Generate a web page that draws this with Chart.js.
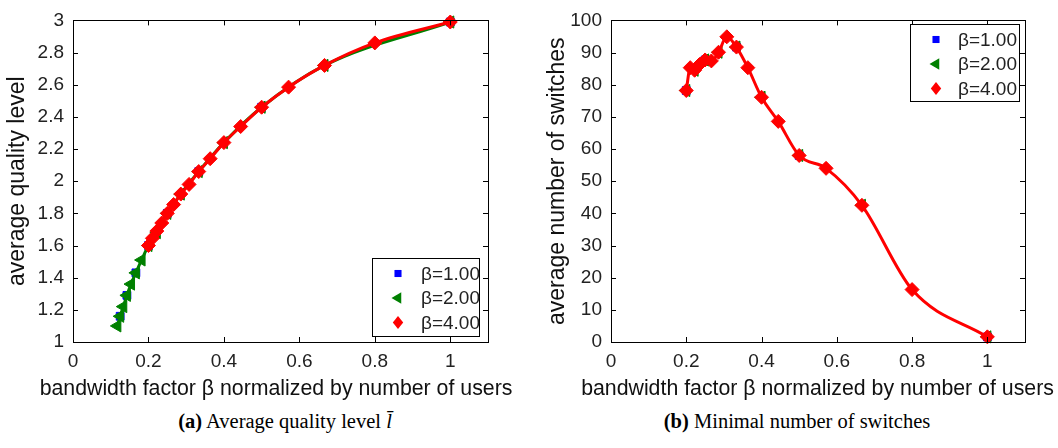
<!DOCTYPE html>
<html><head><meta charset="utf-8">
<script src="https://cdn.jsdelivr.net/npm/chart.js@4.4.0/dist/chart.umd.min.js"></script>
<style>
html,body{margin:0;padding:0;background:#fff;width:1058px;height:448px;overflow:hidden;}
#c1{position:absolute;left:0;top:0;width:529px;height:410px;}
#c2{position:absolute;left:529px;top:0;width:529px;height:410px;}
.cap{position:absolute;top:410px;font-family:"Liberation Serif","Times New Roman",serif;font-size:20.5px;color:#000;white-space:nowrap;transform:translateX(-50%);}
</style></head><body>
<canvas id="c1" width="529" height="410"></canvas>
<canvas id="c2" width="529" height="410"></canvas>
<div class="cap" style="left:285px"><b>(a)</b> Average quality level <i>l&#772;</i></div>
<div class="cap" style="left:797px"><b>(b)</b> Minimal number of switches</div>
<script>
// ---------- data ----------
const xTickValues = [0, 0.2, 0.4, 0.6, 0.8, 1];
const xTickLabels = ['0', '0.2', '0.4', '0.6', '0.8', '1'];
const qualityTickValues = [1, 1.2, 1.4, 1.6, 1.8, 2, 2.2, 2.4, 2.6, 2.8, 3];
const qualityTickLabels = ['1', '1.2', '1.4', '1.6', '1.8', '2', '2.2', '2.4', '2.6', '2.8', '3'];
const switchTickValues = [0, 10, 20, 30, 40, 50, 60, 70, 80, 90, 100];
const switchTickLabels = ['0', '10', '20', '30', '40', '50', '60', '70', '80', '90', '100'];
const seriesLabels = ['β=1.00', 'β=2.00', 'β=4.00'];
const xAxisTitle = 'bandwidth factor β normalized by number of users';
const qualityAxisTitle = 'average quality level';
const switchAxisTitle = 'average number of switches';

// (a) average quality level
const qualityXBeta1 = [0.125, 0.1429, 0.1667, 0.2, 0.25, 0.3333, 0.5, 1];
const qualityBeta1  = [1.16, 1.29, 1.43, 1.60, 1.80, 2.06, 2.46, 2.99];
const qualityXBeta2 = [0.1176, 0.125, 0.1333, 0.1429, 0.1538, 0.1667, 0.1818, 0.2, 0.2222, 0.25, 0.2857, 0.3333, 0.4, 0.5, 0.6667, 1];
const qualityBeta2  = [1.10, 1.16, 1.22, 1.29, 1.36, 1.43, 1.51, 1.60, 1.68, 1.80, 1.92, 2.06, 2.24, 2.46, 2.72, 2.99];
const qualityXBeta4 = [0.2, 0.2105, 0.2222, 0.2353, 0.25, 0.2667, 0.2857, 0.3077, 0.3333, 0.3636, 0.4, 0.4444, 0.5, 0.5714, 0.6667, 0.8, 1];
const qualityBeta4  = [1.60, 1.645, 1.69, 1.74, 1.80, 1.855, 1.92, 1.98, 2.06, 2.14, 2.24, 2.34, 2.46, 2.585, 2.72, 2.86, 2.99];

// (b) average number of switches
const switchXBeta1 = [0.2, 0.25, 0.3333, 0.5, 1];
const switchBeta1  = [78.2, 87.7, 91.7, 58.0, 1.6];
const switchXBeta2 = [0.2, 0.2222, 0.25, 0.2857, 0.3333, 0.4, 0.5, 0.6667, 1];
const switchBeta2  = [78.2, 84.5, 87.7, 90.1, 91.7, 76.1, 58.0, 42.5, 1.6];
const switchXBeta4 = [0.2, 0.2105, 0.2222, 0.2353, 0.25, 0.2667, 0.2857, 0.3077, 0.3333, 0.3636, 0.4, 0.4444, 0.5, 0.5714, 0.6667, 0.8, 1];
const switchBeta4  = [78.2, 85.3, 84.5, 86.3, 87.7, 87.4, 90.1, 94.9, 91.7, 85.3, 76.1, 68.6, 58.0, 54.0, 42.5, 16.3, 1.6];

// ---------- styling ----------
const COLORS = ['#0000ff', '#008000', '#ff0000'];
const STYLES = ['rect', 'triangle', 'rectRot'];
const ROTS = [0, -90, 0];
const RADII = [5.5, 7, 7];
const FONT = '"Liberation Sans", Arial, Helvetica, sans-serif';

function pts(xs, ys) { return xs.map((x, i) => ({x: x, y: ys[i]})); }

function makeDatasets(xsList, ysList, linesShown) {
  return xsList.map((xs, i) => ({
    label: seriesLabels[i],
    data: pts(xs, ysList[i]),
    borderColor: COLORS[i],
    backgroundColor: COLORS[i],
    borderWidth: 3,
    showLine: linesShown[i],
    pointStyle: STYLES[i],
    pointRotation: ROTS[i],
    pointRadius: RADII[i],
    pointBorderWidth: 1,
    pointBorderColor: COLORS[i],
    pointBackgroundColor: COLORS[i],
    cubicInterpolationMode: 'monotone',
    clip: false,
    order: 2 - i
  }));
}

function markerPath(ctx, style, x, y, r) {
  ctx.beginPath();
  if (style === 'rect') {
    const s = r * Math.SQRT1_2;
    ctx.rect(x - s, y - s, 2 * s, 2 * s);
  } else if (style === 'triangle') {
    ctx.moveTo(x - r, y);
    ctx.lineTo(x + r * 0.5, y - r * 0.866);
    ctx.lineTo(x + r * 0.5, y + r * 0.866);
    ctx.closePath();
  } else {
    ctx.moveTo(x, y - r);
    ctx.lineTo(x + r * 0.8, y);
    ctx.lineTo(x, y + r);
    ctx.lineTo(x - r * 0.8, y);
    ctx.closePath();
  }
  ctx.fill();
}

const framePlugin = {
  id: 'frame',
  afterDatasetsDraw(chart) {
    const {ctx, chartArea: a, scales} = chart;
    ctx.save();
    ctx.strokeStyle = '#000';
    ctx.lineWidth = 1;
    ctx.strokeRect(Math.round(a.left) + 0.5, Math.round(a.top) + 0.5,
                   Math.round(a.right - a.left), Math.round(a.bottom - a.top));
    const L = 5;
    ctx.beginPath();
    scales.x.ticks.forEach(t => {
      const px = Math.round(scales.x.getPixelForValue(t.value)) + 0.5;
      ctx.moveTo(px, a.bottom); ctx.lineTo(px, a.bottom - L);
      ctx.moveTo(px, a.top); ctx.lineTo(px, a.top + L);
    });
    scales.y.ticks.forEach(t => {
      const py = Math.round(scales.y.getPixelForValue(t.value)) + 0.5;
      ctx.moveTo(a.left, py); ctx.lineTo(a.left + L, py);
      ctx.moveTo(a.right, py); ctx.lineTo(a.right - L, py);
    });
    ctx.stroke();
    ctx.restore();
  },
  afterDraw(chart, args, opts) {
    const {ctx, chartArea: a} = chart;
    ctx.save();
    // axis titles
    ctx.fillStyle = '#111';
    ctx.textAlign = 'center';
    ctx.textBaseline = 'middle';
    ctx.font = opts.xTitleSize + 'px ' + FONT;
    ctx.fillText(xAxisTitle, opts.xTitleX, opts.xTitleY);
    ctx.save();
    ctx.translate(opts.yTitleX, (a.top + a.bottom) / 2);
    ctx.rotate(-Math.PI / 2);
    ctx.font = opts.yTitleSize + 'px ' + FONT;
    ctx.fillText(opts.yTitle, 0, 0);
    ctx.restore();
    // legend
    const lg = opts.legend;
    ctx.fillStyle = '#fff';
    ctx.fillRect(lg.left, lg.top, lg.width, lg.height);
    ctx.strokeStyle = '#000';
    ctx.lineWidth = 1;
    ctx.strokeRect(lg.left + 0.5, lg.top + 0.5, lg.width, lg.height);
    ctx.font = '19px ' + FONT;
    ctx.textBaseline = 'middle';
    ctx.textAlign = 'left';
    chart.data.datasets.forEach((ds, i) => {
      const y = lg.top + lg.firstRow + i * lg.rowGap;
      ctx.fillStyle = COLORS[i];
      markerPath(ctx, STYLES[i], lg.left + lg.markerX, y, RADII[i] - 0.5);
      ctx.fillStyle = '#222';
      ctx.fillText(ds.label, lg.left + lg.textX, y + 1);
    });
    ctx.restore();
  }
};

function makeChart(id, datasets, yMin, yMax, yTickVals, yTickLabels, pad, yWidth, frameOpts) {
  return new Chart(document.getElementById(id), {
    type: 'line',
    data: {datasets: datasets},
    options: {
      responsive: false,
      animation: false,
      devicePixelRatio: 1,
      layout: {padding: pad},
      plugins: {legend: {display: false}, tooltip: {enabled: false}, frame: frameOpts},
      scales: {
        x: {
          type: 'linear', min: 0, max: 1.1,
          grid: {display: false, drawTicks: false},
          border: {display: false},
          afterBuildTicks: s => { s.ticks = xTickValues.map(v => ({value: v})); },
          afterFit: s => { s.height = 68; },
          ticks: {
            color: '#222', padding: 8, maxRotation: 0, autoSkip: false,
            font: {family: FONT, size: 19},
            callback: (v) => xTickLabels[xTickValues.indexOf(v)]
          }
        },
        y: {
          type: 'linear', min: yMin, max: yMax,
          grid: {display: false, drawTicks: false},
          border: {display: false},
          afterBuildTicks: s => { s.ticks = yTickVals.map(v => ({value: v})); },
          afterFit: s => { s.width = yWidth; },
          ticks: {
            color: '#222', padding: 9, autoSkip: false,
            font: {family: FONT, size: 19},
            callback: (v) => yTickLabels[yTickVals.indexOf(v)]
          }
        }
      }
    },
    plugins: [framePlugin]
  });
}

makeChart('c1',
  makeDatasets([qualityXBeta1, qualityXBeta2, qualityXBeta4], [qualityBeta1, qualityBeta2, qualityBeta4], [false, true, true]),
  1, 3, qualityTickValues, qualityTickLabels,
  {left: 0, top: 16, right: 41, bottom: 0}, 73,
  {xTitleSize: 21.3, xTitleX: 276, xTitleY: 389, yTitle: qualityAxisTitle, yTitleSize: 23, yTitleX: 18,
   legend: {left: 372, top: 258, width: 107, height: 78, markerX: 26, textX: 49, firstRow: 15.5, rowGap: 24.5}});

makeChart('c2',
  makeDatasets([switchXBeta1, switchXBeta2, switchXBeta4], [switchBeta1, switchBeta2, switchBeta4], [false, false, true]),
  0, 100, switchTickValues, switchTickLabels,
  {left: 0, top: 17, right: 33, bottom: 0}, 82,
  {xTitleSize: 21.3, xTitleX: 288.5, xTitleY: 389, yTitle: switchAxisTitle, yTitleSize: 23, yTitleX: 29,
   legend: {left: 381, top: 24, width: 109, height: 77, markerX: 26, textX: 48, firstRow: 15.5, rowGap: 24.5}});
</script>
</body></html>
